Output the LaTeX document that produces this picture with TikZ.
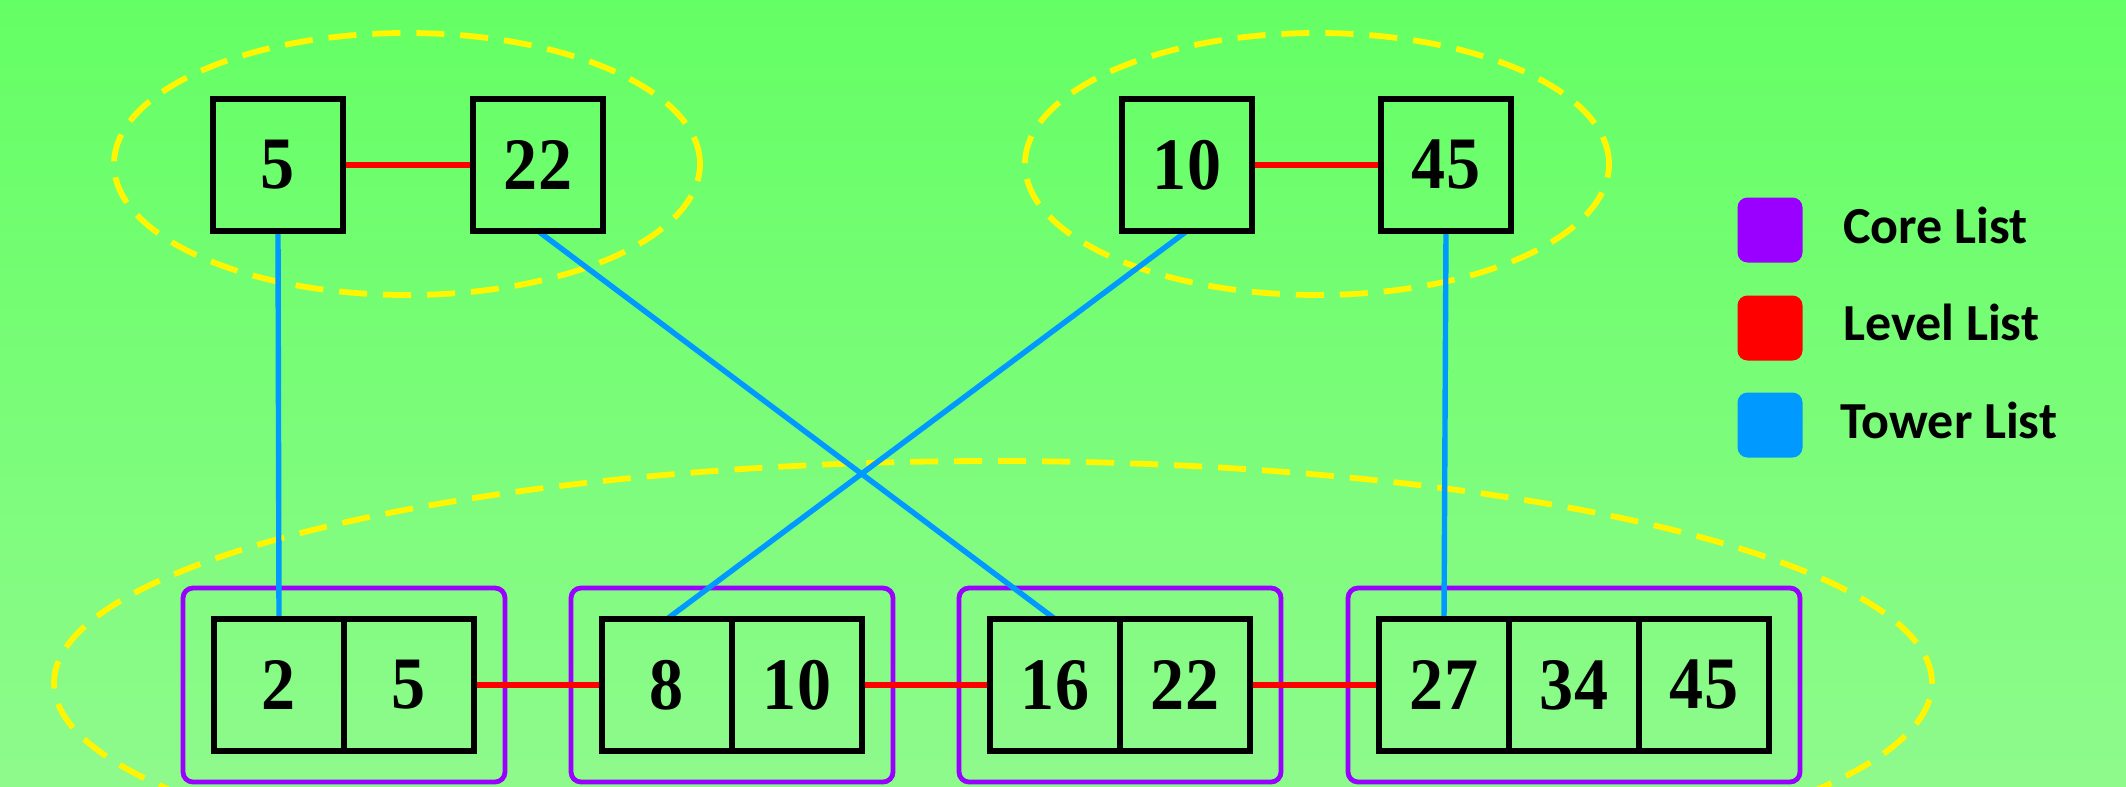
\documentclass[tikz,border=0pt]{standalone}
\usepackage{fontspec}
\setmainfont{Liberation Serif}
\newfontfamily\numfont{Liberation Serif}[FakeStretch=0.92]
\newfontfamily\legendfont{Carlito}
\usetikzlibrary{fit}

\definecolor{bgtop}{RGB}{100,255,100}
\definecolor{bgbot}{RGB}{142,250,140}
\definecolor{corepurple}{RGB}{153,0,255}
\definecolor{levelred}{RGB}{255,0,0}
\definecolor{towerblue}{RGB}{0,153,255}
\definecolor{groupyellow}{RGB}{255,245,0}

\pgfdeclarelayer{bg}
\pgfdeclarelayer{core}
\pgfdeclarelayer{links}
\pgfsetlayers{bg,core,links,main}

\tikzset{
  cell/.style={draw=black, line width=3pt, minimum width=65pt, minimum height=66pt,
    inner sep=0pt, outer sep=0pt, font=\numfont\bfseries\fontsize{37}{37}\selectfont},
  corebox/.style={draw=corepurple, line width=2.4pt, rounded corners=5pt, inner sep=15.5pt},
  levellink/.style={draw=levelred, line width=3pt},
  towerlink/.style={draw=towerblue, line width=2.7pt},
  group/.style={draw=groupyellow, line width=2.9pt, dash pattern=on 14pt off 8pt},
  legsq/.style={rounded corners=5pt, minimum size=32.5pt, inner sep=0pt},
  legtext/.style={anchor=base west, inner sep=0pt, font=\legendfont\bfseries\fontsize{26}{26}\selectfont}
}

\begin{document}
\begin{tikzpicture}[x=0.5pt, y=-0.5pt]
\useasboundingbox (0,0) rectangle (2126,787);

% background and dashed group outlines
\begin{pgfonlayer}{bg}
  \shade[top color=bgtop, bottom color=bgbot] (0,0) rectangle (2126,787);
  \draw[group] (407,164) ellipse [x radius=146.5pt, y radius=65.5pt];
  \draw[group] (1317,164) ellipse [x radius=146pt, y radius=65.5pt];
  \draw[group] (993,683) ellipse [x radius=469.5pt, y radius=111pt];
\end{pgfonlayer}

% upper level
\node[cell] (t5)  at (278,165)  {5};
\node[cell] (t22) at (538,165)  {22};
\node[cell] (t10) at (1187,165) {10};
\node[cell] (t45) at (1446,165) {45};

% core lists
\node[cell] (c2)  at (279,685)  {2};
\node[cell] (c5)  at (409,685)  {5};
\node[cell] (c8)  at (667,685)  {8};
\node[cell] (c10) at (797,685)  {10};
\node[cell] (c16) at (1055,685) {16};
\node[cell] (c22) at (1185,685) {22};
\node[cell] (c27) at (1444,685) {27};
\node[cell] (c34) at (1574,685) {34};
\node[cell] (c45) at (1704,685) {45};

\begin{pgfonlayer}{core}
  \node[corebox, fit=(c2)(c5)]   (g1) {};
  \node[corebox, fit=(c8)(c10)]  (g2) {};
  \node[corebox, fit=(c16)(c22)] (g3) {};
  \node[corebox, fit=(c27)(c45)] (g4) {};
\end{pgfonlayer}

\begin{pgfonlayer}{links}
  % level lists
  \draw[levellink] (t5.east)  -- (t22.west);
  \draw[levellink] (t10.east) -- (t45.west);
  \draw[levellink] (c5.east)  -- (c8.west);
  \draw[levellink] (c10.east) -- (c16.west);
  \draw[levellink] (c22.east) -- (c27.west);
  % tower lists
  \draw[towerlink] (t5.south)  -- (c2.north);
  \draw[towerlink] (t22.south) -- (c16.north);
  \draw[towerlink] (t10.south) -- (c8.north);
  \draw[towerlink] (t45.south) -- (c27.north);
\end{pgfonlayer}

% legend
\node[legsq, fill=corepurple] (lcore)  at (1770,230) {};
\node[legsq, fill=levelred]   (llevel) at (1770,328) {};
\node[legsq, fill=towerblue]  (ltower) at (1770,425) {};
\node[legtext] (tcore)  at (1843,243) {Core List};
\node[legtext] (tlevel) at (1843,340) {Level List};
\node[legtext] (ttower) at (1840,438) {Tower List};
\end{tikzpicture}
\end{document}
